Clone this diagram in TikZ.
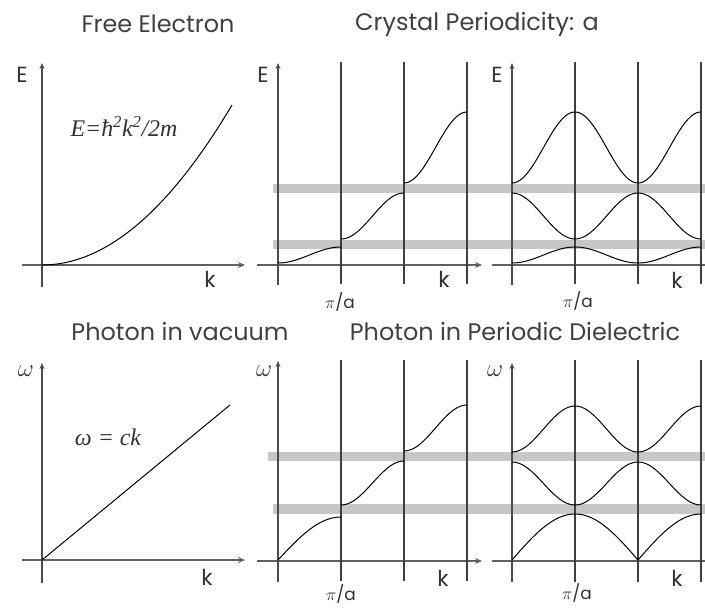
\documentclass[tikz,border=0pt]{standalone}
\usepackage{fontspec}
\usetikzlibrary{arrows.meta}
\newfontfamily\ttlfont{Poppins}
\newfontfamily\serfont{Liberation Serif}
\begin{document}
\begin{tikzpicture}[x=1bp,y=-1bp,
  axis/.style={draw=black!62,line width=1.6bp},
  axarrow/.style={axis,-{Stealth[length=7bp,width=6bp]}},
  vaxarrow/.style={draw=black!70,line width=1.3bp,-{Stealth[length=6bp,width=5bp]}},
  zone/.style={draw=black!75,line width=1.4bp},
  gapband/.style={draw=black!22,line width=9bp},
  curve/.style={draw=black,line width=1bp},
  ttl/.style={font=\ttlfont\fontsize{24}{28}\selectfont,text=black!75,inner sep=0pt},
  lab/.style={font=\ttlfont\fontsize{22}{26}\selectfont,text=black!80,inner sep=0pt},
  pia/.style={font=\ttlfont\fontsize{17}{20}\selectfont,text=black!80,inner sep=0pt},
  wlab/.style={font=\fontsize{26}{30}\selectfont,text=black!80,inner sep=0pt},
  frm/.style={font=\serfont\itshape\fontsize{24}{28}\selectfont,text=black!80,inner sep=0pt}]
\useasboundingbox[fill=white] (0,0) rectangle (705,608);
% ---------- titles ----------
\node[ttl] (t1) at (158,24) {Free Electron};
\node[ttl] (t2) at (477,24) {Crystal Periodicity: a};
\node[ttl] (t3) at (180,332) {Photon in vacuum};
\node[ttl] (t4) at (515,332) {Photon in Periodic Dielectric};
% ---------- gap bands ----------
\coordinate (bA1) at (273,188.5); \coordinate (bA2) at (705,188.5);
\coordinate (bB1) at (273,244); \coordinate (bB2) at (705,244);
\coordinate (bC1) at (268,456); \coordinate (bC2) at (705,456);
\coordinate (bD1) at (273,509); \coordinate (bD2) at (705,509);
\draw[gapband] (bA1) -- (bA2);
\draw[gapband] (bB1) -- (bB2);
\draw[gapband] (bC1) -- (bC2);
\draw[gapband,line width=10bp] (bD1) -- (bD2);
% ---------- panel 1 ----------
\coordinate (p1v0) at (42,287); \coordinate (p1v1) at (42,63);
\coordinate (p1h0) at (22,265); \coordinate (p1h1) at (245,265);
\draw[axarrow] (p1h0) -- (p1h1);
\draw[vaxarrow] (p1v0) -- (p1v1);
\draw[curve] plot[domain=42:232,samples=50] (\x,{265-160*((\x-42)/190)^2});
\node[lab] (E1) at (22,75) {E};
\node[lab] (k1) at (210,279) {k};
\node[frm] (f1) at (124,127) {E=ħ\textsuperscript{2}k\textsuperscript{2}/2m};
% ---------- panel 2 ----------
\coordinate (p2v0) at (278,285); \coordinate (p2v1) at (278,63);
\coordinate (p2h0) at (257,265); \coordinate (p2h1) at (482,265);
\draw[axarrow] (p2h0) -- (p2h1);
\foreach \xx [count=\i] in {341,404,467}{
  \coordinate (z2a\i) at (\xx,62); \coordinate (z2b\i) at (\xx,284);
  \draw[zone] (z2a\i) -- (z2b\i);}
\draw[vaxarrow] (p2v0) -- (p2v1);
\draw[curve] plot[domain=278:341,samples=40] (\x,{255+8*cos(2.857*(\x-278))});
\draw[curve] plot[domain=341:404,samples=40] (\x,{216+23*cos(2.857*(\x-341))});
\draw[curve] plot[domain=404:467,samples=40] (\x,{147.5+35.5*cos(2.857*(\x-404))});
\node[lab] (E2) at (263,75) {E};
\node[lab] (k2) at (444,279) {k};
\node[pia] (pa2) at (340,302) {$\pi$/a};
% ---------- panel 3 ----------
\coordinate (p3v0) at (512,285); \coordinate (p3v1) at (512,63);
\coordinate (p3h0) at (492,265); \coordinate (p3h1) at (705,265);
\draw[axis] (p3h0) -- (p3h1);
\foreach \xx [count=\i] in {575,638,701}{
  \coordinate (z3a\i) at (\xx,62); \coordinate (z3b\i) at (\xx,284);
  \draw[zone] (z3a\i) -- (z3b\i);}
\draw[vaxarrow] (p3v0) -- (p3v1);
\draw[curve] plot[domain=512:701,samples=120] (\x,{255+8*cos(2.857*(\x-512))});
\draw[curve] plot[domain=512:701,samples=120] (\x,{216-23*cos(2.857*(\x-512))});
\draw[curve] plot[domain=512:701,samples=120] (\x,{147.5+35.5*cos(2.857*(\x-512))});
\node[lab] (E3) at (497,75) {E};
\node[lab] (k3) at (677,280) {k};
\node[pia] (pa3) at (578,301) {$\pi$/a};
% ---------- panel 4 ----------
\coordinate (p4v0) at (42,583); \coordinate (p4v1) at (42,363);
\coordinate (p4h0) at (22,560); \coordinate (p4h1) at (245,560);
\draw[axarrow] (p4h0) -- (p4h1);
\draw[vaxarrow] (p4v0) -- (p4v1);
\coordinate (l0) at (42,560); \coordinate (l1) at (230,405);
\draw[curve] (l0) -- (l1);
\node[wlab] (w4) at (26,371) {$\omega$};
\node[lab] (k4) at (207,577) {k};
\node[frm] (f4) at (108,437) {ω = ck};
% ---------- panel 5 ----------
\coordinate (p5v0) at (278,582); \coordinate (p5v1) at (278,361);
\coordinate (p5h0) at (257,561); \coordinate (p5h1) at (482,561);
\draw[axarrow] (p5h0) -- (p5h1);
\foreach \xx [count=\i] in {341,404,467}{
  \coordinate (z5a\i) at (\xx,360); \coordinate (z5b\i) at (\xx,581);
  \draw[zone] (z5a\i) -- (z5b\i);}
\draw[vaxarrow] (p5v0) -- (p5v1);
\draw[curve] plot[domain=278:341,samples=40] (\x,{560-43*sin(1.4286*(\x-278))});
\draw[curve] plot[domain=341:404,samples=40] (\x,{483+22*cos(2.857*(\x-341))});
\draw[curve] plot[domain=404:467,samples=40] (\x,{428+23*cos(2.857*(\x-404))});
\node[wlab] (w5) at (264,371) {$\omega$};
\node[lab] (k5) at (443,578) {k};
\node[pia] (pa5) at (341,594) {$\pi$/a};
% ---------- panel 6 ----------
\coordinate (p6v0) at (512,582); \coordinate (p6v1) at (512,363);
\coordinate (p6h0) at (492,561); \coordinate (p6h1) at (705,561);
\draw[axis] (p6h0) -- (p6h1);
\foreach \xx [count=\i] in {575,638,701}{
  \coordinate (z6a\i) at (\xx,360); \coordinate (z6b\i) at (\xx,582);
  \draw[zone] (z6a\i) -- (z6b\i);}
\draw[vaxarrow] (p6v0) -- (p6v1);
\draw[curve] plot[domain=512:701,samples=150] (\x,{560-46*abs(sin(1.4286*(\x-512)))});
\draw[curve] plot[domain=512:701,samples=120] (\x,{483.5-21.5*cos(2.857*(\x-512))});
\draw[curve] plot[domain=512:701,samples=120] (\x,{429+23*cos(2.857*(\x-512))});
\node[wlab] (w6) at (495,371) {$\omega$};
\node[lab] (k6) at (677,578) {k};
\node[pia] (pa6) at (577,593) {$\pi$/a};
\end{tikzpicture}
\end{document}
